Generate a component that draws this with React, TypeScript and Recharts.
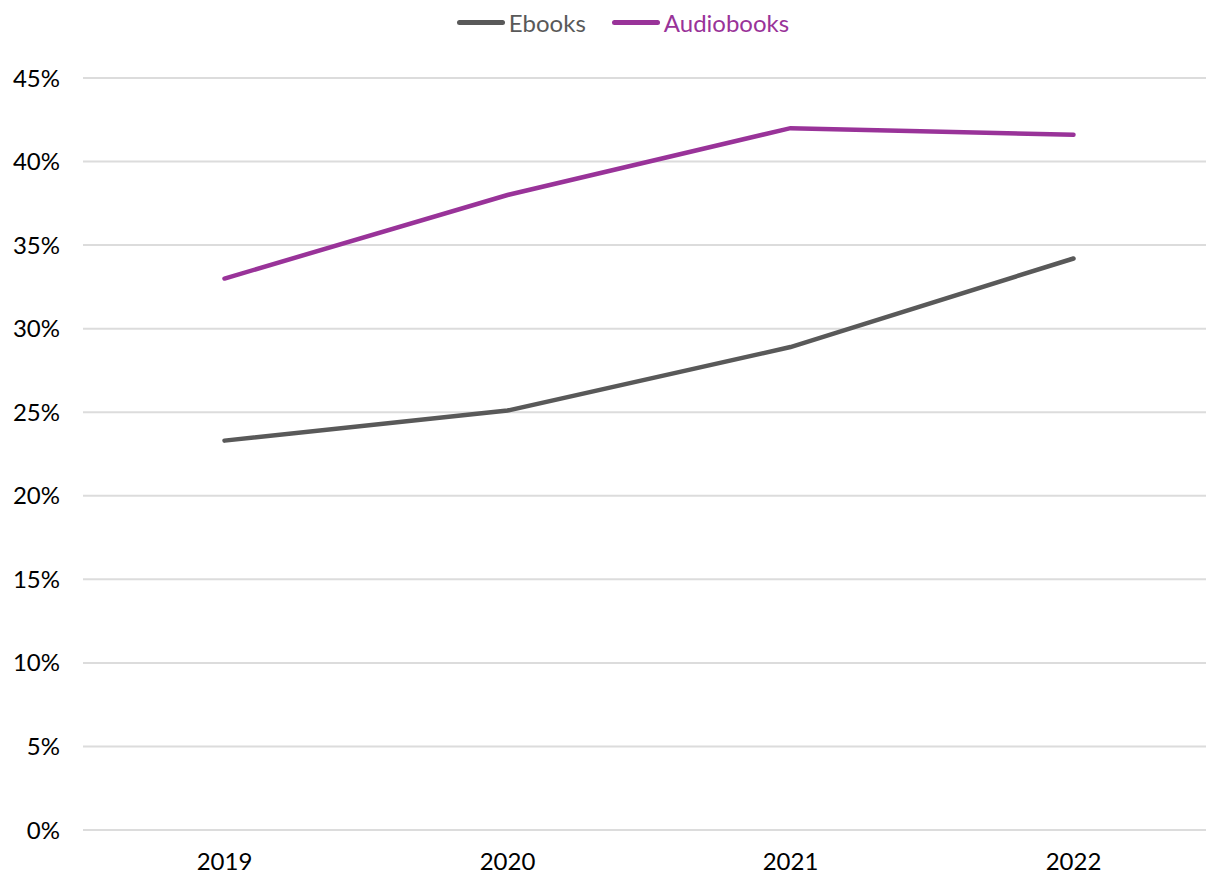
import { LineChart, Line, XAxis, YAxis, CartesianGrid } from 'recharts';

const years = ['2019', '2020', '2021', '2022'];
const ebooks = [23.3, 25.1, 28.9, 34.2];
const audiobooks = [33.0, 38.0, 42.0, 41.6];
const yTicks = [0, 5, 10, 15, 20, 25, 30, 35, 40, 45];

const seriesInfo = [
  { key: 'Ebooks', color: '#595959' },
  { key: 'Audiobooks', color: '#993399' },
];

const data = years.map((year, i) => ({ year, Ebooks: ebooks[i], Audiobooks: audiobooks[i] }));

const FONT = 'Lato, "Open Sans", sans-serif';

// legend sits above the plot, drawn as plain html so it doesn't push the grid down
function TopLegend() {
  return (
    <div
      style={{
        position: 'absolute',
        top: 8,
        left: 0,
        width: 1246,
        display: 'flex',
        justifyContent: 'center',
        gap: 26,
        fontFamily: FONT,
        fontSize: 24,
        zIndex: 1,
      }}
    >
      {seriesInfo.map((s) => (
        <div key={s.key} style={{ display: 'flex', alignItems: 'center', color: s.color }}>
          <span
            style={{
              display: 'inline-block',
              width: 48,
              height: 5,
              borderRadius: 3,
              background: s.color,
              marginRight: 4,
            }}
          />
          {s.key}
        </div>
      ))}
    </div>
  );
}

export default function App() {
  return (
    <div style={{ position: 'absolute', left: 0, top: 0, width: 1206, height: 875, background: '#fff', overflow: 'hidden' }}>
      <TopLegend />
      <LineChart width={1206} height={875} data={data} margin={{ top: 78, right: -9, bottom: 0, left: 0 }}>
        <CartesianGrid vertical={false} stroke="#dcdcdc" strokeWidth={2} />
        <XAxis
          dataKey="year"
          scale="band"
          height={45}
          axisLine={false}
          tickLine={false}
          tickSize={0}
          tickMargin={23}
          tick={{ fill: '#000', fontSize: 24, fontFamily: FONT }}
        />
        <YAxis
          width={83}
          domain={[0, 45]}
          ticks={yTicks}
          interval={0}
          axisLine={false}
          tickLine={false}
          tickSize={0}
          tickMargin={23}
          tickFormatter={(v) => `${v}%`}
          tick={{ fill: '#000', fontSize: 24, fontFamily: FONT }}
        />
        {seriesInfo.map((s) => (
          <Line
            key={s.key}
            type="linear"
            dataKey={s.key}
            stroke={s.color}
            strokeWidth={4.5}
            strokeLinecap="round"
            dot={false}
            activeDot={false}
            isAnimationActive={false}
          />
        ))}
      </LineChart>
    </div>
  );
}
